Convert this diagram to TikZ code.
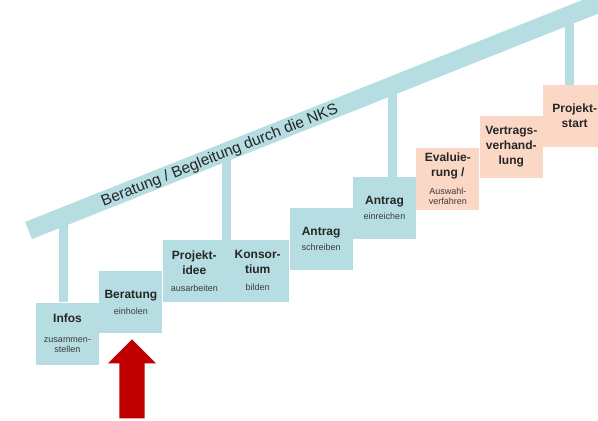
\documentclass[tikz,border=0pt]{standalone}
\usepackage{fontspec}
\setmainfont{Liberation Sans}
\usetikzlibrary{positioning}
\usetikzlibrary{shapes.arrows}
\definecolor{stepblue}{RGB}{182,221,225}
\definecolor{steppink}{RGB}{251,215,198}
\definecolor{arrowred}{RGB}{192,0,0}
\definecolor{subgray}{RGB}{60,60,60}
\tikzset{stepbox/.style={fill=stepblue, minimum width=63pt, minimum height=62pt, inner sep=1pt, align=center, text=black!85, font=\bfseries\fontsize{12}{15}\selectfont}}
\tikzset{pinkbox/.style={stepbox, fill=steppink}}
\tikzset{nextstep/.style={above right=-31pt and 0pt of #1}}
\tikzset{pole/.style={draw=stepblue, line width=9pt}}
\tikzset{bar/.style={draw=stepblue, line width=18.5pt}}
\newcommand{\sublabel}{\fontsize{9}{10}\selectfont\mdseries\color{subgray}}

\begin{document}
\begin{tikzpicture}[x=1pt, y=-1pt]
    \useasboundingbox (0,0) rectangle (598,421);
    \clip (0,0) rectangle (598,421);

    % steps
    \node (infos) at (67.5,333.5) [stepbox] {Infos\\[5pt]\sublabel zusammen-\\[-5pt]\sublabel stellen};
    \node (beratung) [stepbox, nextstep=infos] {Beratung\\[1pt]\sublabel einholen};
    \node (idee) [stepbox, nextstep=beratung] {Projekt-\\idee\\[2pt]\sublabel ausarbeiten};
    \node (konsortium) [stepbox, right=0pt of idee] {Konsor-\\tium\\[2pt]\sublabel bilden};
    \node (schreiben) [stepbox, nextstep=konsortium] {Antrag\\\sublabel schreiben};
    \node (einreichen) [stepbox, nextstep=schreiben] {Antrag\\\sublabel einreichen};
    \node (evaluierung) [pinkbox, nextstep=einreichen, yshift=-2pt] {Evaluie-\\rung /\\[3pt]\sublabel Auswahl-\\[-5pt]\sublabel verfahren};
    \node (vertrag) [pinkbox, nextstep=evaluierung] {Vertrags-\\verhand-\\lung};
    \node (start) [pinkbox, nextstep=vertrag] {Projekt-\\start};

    % posts
    \coordinate (hook1) at (63.5,216);
    \coordinate (hook2) at (226,151);
    \coordinate (hook3) at (392.5,85);
    \coordinate (hook4) at (569,15);
    \path [pole] (hook1) -- (hook1 |- infos.north);
    \path [pole] (hook2) -- (hook2 |- idee.north);
    \path [pole] (hook3) -- (hook3 |- einreichen.north);
    \path [pole] (hook4) -- (hook4 |- start.north);

    % handrail
    \coordinate (barstart) at (28.5,230.5);
    \coordinate (barend) at (640,-13);
    \path [bar] (barstart) -- node [sloped, pos=0.312, anchor=base, yshift=-5.5pt, font=\fontsize{15.5}{18}\selectfont, text=black!85] {Beratung / Begleitung durch die NKS} (barend);

    \node (pointer) at (132,339) [single arrow, fill=arrowred, rotate=90, anchor=tip, minimum height=79pt, inner xsep=0pt, inner ysep=12.5pt, single arrow head extend=11.5pt] {};
\end{tikzpicture}
\end{document}
